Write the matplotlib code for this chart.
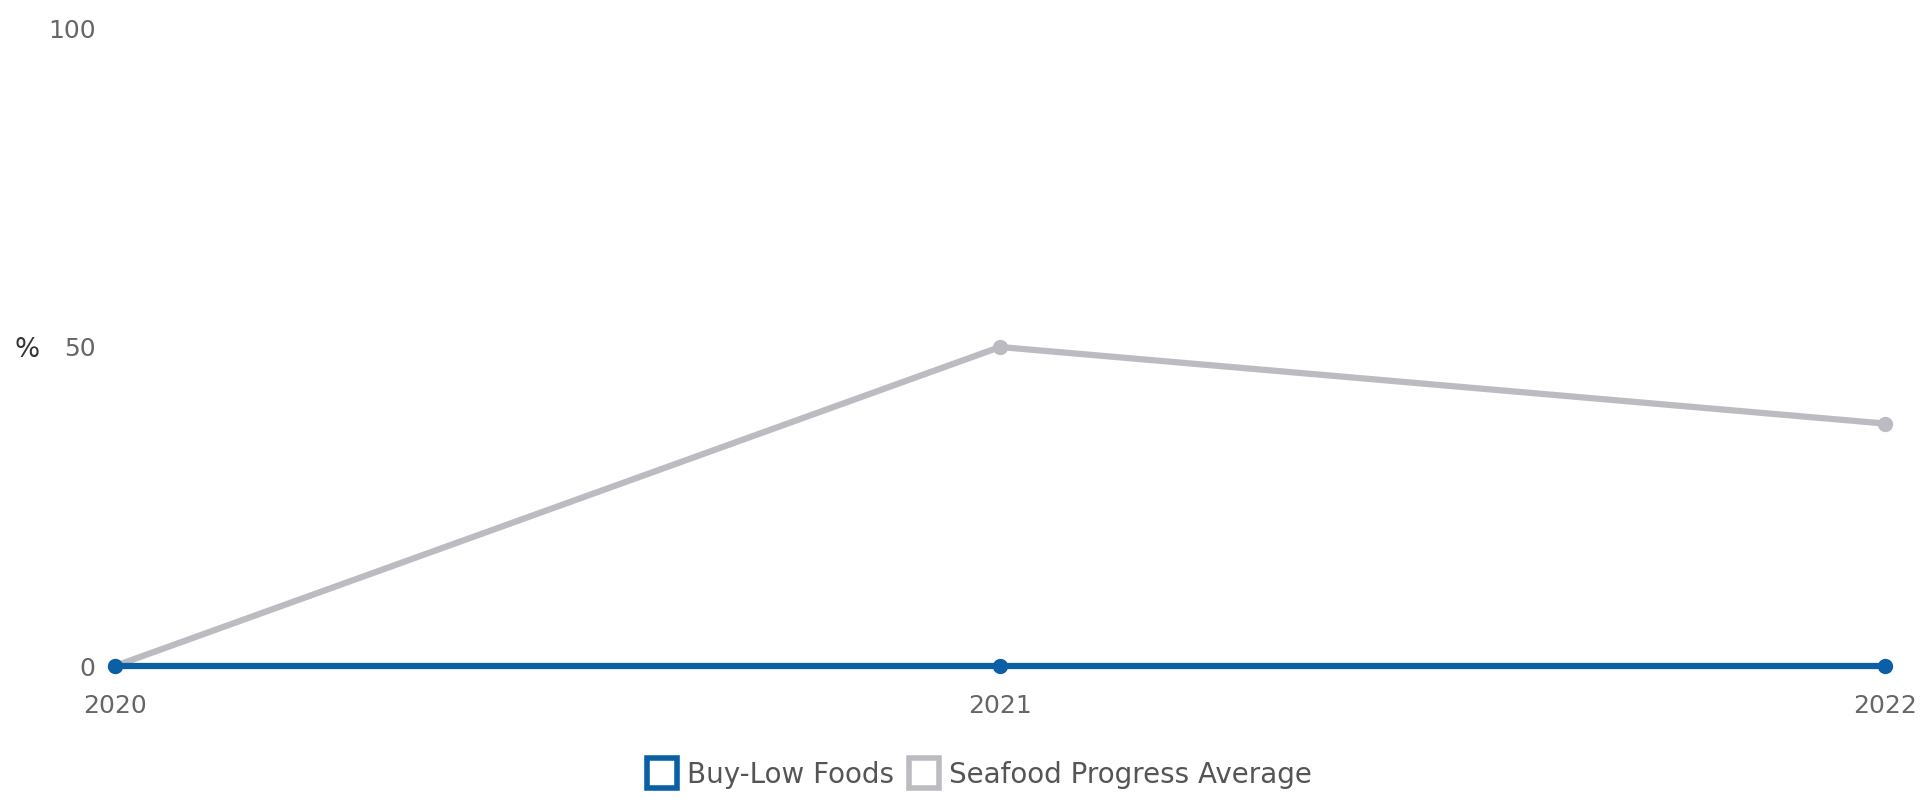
import matplotlib.pyplot as plt
from matplotlib.lines import Line2D

years = [2020, 2021, 2022]
buy_low = [0, 0, 0]
seafood_avg = [0, 50, 38]
yticks = [0, 50, 100]

azul = '#0b5fa5'
gris = '#bcbbc2'

fig = plt.figure(figsize=(19.32, 7.99), dpi=100)
ax = fig.add_axes([115 / 1932, 133 / 799, 1770 / 1932, 638 / 799])

# promedio primero, la linea azul queda encima
ax.plot(years, seafood_avg, color=gris, linewidth=4.5, marker='o', markersize=10,
        clip_on=False, zorder=2)
ax.plot(years, buy_low, color=azul, linewidth=4.5, marker='o', markersize=10,
        clip_on=False, zorder=3)

ax.set_xlim(2020, 2022)
ax.set_ylim(0, 100)
ax.set_xticks(years)
ax.set_xticklabels([str(a) for a in years])
ax.set_yticks(yticks)
for s in ax.spines.values():
    s.set_visible(False)
ax.tick_params(axis='both', length=0, labelsize=18, labelcolor='#666666')
ax.tick_params(axis='y', pad=14)
ax.tick_params(axis='x', pad=20)

fig.text(15 / 1932, 1 - 350 / 799, '%', fontsize=19, color='#333333', va='center')

handles = [
    Line2D([], [], linestyle='none', marker='s', markersize=21, markerfacecolor='white',
           markeredgecolor=azul, markeredgewidth=4),
    Line2D([], [], linestyle='none', marker='s', markersize=21, markerfacecolor='white',
           markeredgecolor=gris, markeredgewidth=4),
]
leg = fig.legend(handles, ['Buy-Low Foods', 'Seafood Progress Average'],
                 loc='center', bbox_to_anchor=(980 / 1932, 1 - 775 / 799), ncol=2,
                 frameon=False, handlelength=1.0, handletextpad=0.4, columnspacing=0.6,
                 prop={'family': 'DejaVu Sans Condensed', 'size': 20})
for t in leg.get_texts():
    t.set_color('#555555')

plt.savefig('out.png', dpi=100)
